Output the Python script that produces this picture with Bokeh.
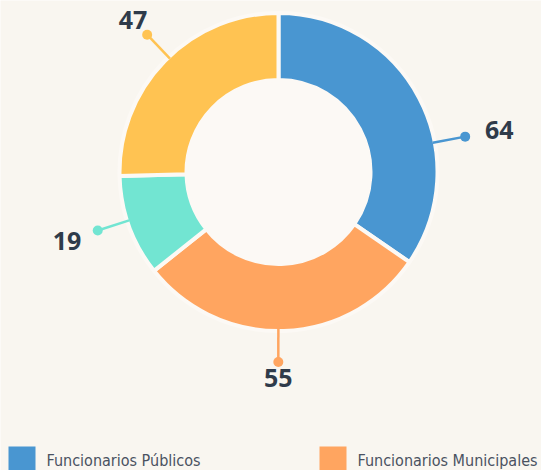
import numpy as np
from bokeh.plotting import figure
from bokeh.models import Range1d, ColumnDataSource
from bokeh.core.properties import value
from bokeh.embed import file_html
from bokeh.resources import INLINE

# ---- data ----
categories = ["Funcionarios Públicos", "Funcionarios Municipales", "Categoría 3", "Categoría 4"]
counts = [64, 55, 19, 47]
colors = ["#4996d1", "#ffa560", "#72e5d2", "#ffc352"]
legend_shown = 2  # only the first legend row is visible in the frame

# ---- layout constants ----
W, H = 541, 470
BG = "#f9f6f0"
HOLE = "#fcf9f5"
cx, cy = 278, 298.5
r_out, r_in, gap = 159, 92, 4
r_dot = 190
label_angle_nudge = [-17, -2, -2, -2]  # degrees

p = figure(width=W, height=H, output_backend="svg", toolbar_location=None,
           x_range=Range1d(0, W), y_range=Range1d(0, H), min_border=0,
           background_fill_color=BG, border_fill_color=BG, outline_line_color=None)
p.axis.visible = False
p.grid.visible = False

vals = np.array(counts, dtype=float)
cum = np.cumsum(vals)
prev = cum - vals
total = vals.sum()
start = np.pi / 2 - prev / total * 2 * np.pi
end = np.pi / 2 - cum / total * 2 * np.pi
mid = (start + end) / 2 + np.radians(label_angle_nudge)

src = ColumnDataSource(dict(start=start, end=end, color=colors))
p.circle(x=cx, y=cy, radius=r_in, fill_color=HOLE, line_color=None)
p.annular_wedge(x=cx, y=cy, inner_radius=r_in, outer_radius=r_out,
                start_angle="start", end_angle="end", direction="clock",
                fill_color="color", line_color=HOLE, line_width=gap, source=src)

r_edge = r_out - gap / 2
x0 = cx + r_edge * np.cos(mid)
y0 = cy + r_edge * np.sin(mid)
x1 = cx + r_dot * np.cos(mid)
y1 = cy + r_dot * np.sin(mid)
p.segment(x0=x0, y0=y0, x1=x1, y1=y1, line_color=colors, line_width=2.5)
p.scatter(x=x1, y=y1, size=10, fill_color=colors, line_color=None)

r_lab = 206 + 20 * np.cos(mid) ** 4
lx = cx + r_lab * np.cos(mid)
ly = cy + r_lab * np.sin(mid)
p.text(x=lx, y=ly, text=[str(c) for c in counts], text_align="center",
       text_baseline="middle", text_font=value("Open Sans"), text_font_style="bold",
       text_font_size="25px", text_color="#2f3b4a")

# ---- legend (manual) ----
leg_x = [8, 319]
for i in range(legend_shown):
    p.block(x=leg_x[i], y=-4, width=27, height=28, fill_color=colors[i], line_color=None)
    p.text(x=[leg_x[i] + 38], y=[10], text=[categories[i]], text_align="left",
           text_baseline="alphabetic", text_font=value("DejaVu Sans Condensed"),
           text_font_size="16px", text_color="#4a5261")

open("out.html", "w").write(file_html(p, INLINE))
